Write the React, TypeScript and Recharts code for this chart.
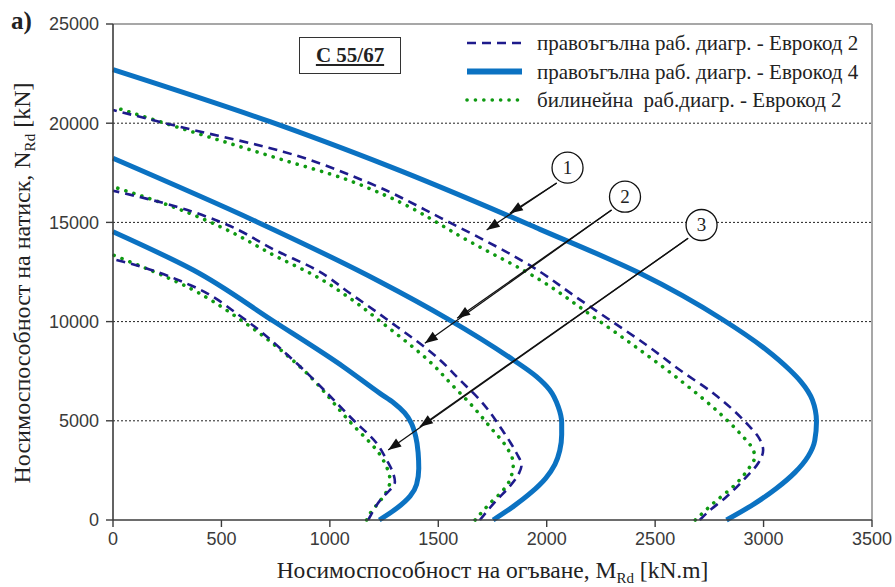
import React from 'react'
import { Legend, Line, LineChart, ReferenceDot, ReferenceLine, XAxis, YAxis } from 'recharts'

// M [kN.m], N [kN] pairs, ordered from N = 0 upwards
const rectEc4Outer = [[2829, 0], [2955, 800], [3060, 1600], [3145, 2400], [3205, 3200], [3236, 4000], [3244, 4950], [3225, 6050], [3170, 7000], [3121, 7560], [3014, 8569], [2814, 10081], [2430, 12433], [1969, 14650], [1277, 17810], [724, 20075], [0, 22700]]
const rectEc2Outer = [[2706, 0], [2737, 336], [2829, 1176], [2922, 2184], [2975, 2858], [2998, 3528], [2975, 4200], [2922, 4873], [2860, 5544], [2768, 6385], [2614, 7560], [2460, 8820], [2291, 10081], [2122, 11340], [1969, 12515], [1515, 15205], [1185, 16970], [785, 18565], [293, 19860], [0, 20665]]
const bilinEc2Outer = [[2685, 0], [2768, 840], [2875, 1848], [2937, 2688], [2960, 3190], [2952, 3528], [2891, 4368], [2798, 5376], [2614, 7056], [2430, 8569], [2214, 10249], [1969, 12100], [1646, 14027], [1262, 16330], [1062, 17220], [785, 18145], [447, 19290], [217, 20075], [0, 20830]]

const rectEc4Mid = [[1753, 0], [1848, 700], [1930, 1400], [1995, 2100], [2038, 2800], [2060, 3500], [2069, 4300], [2069, 4900], [2053, 5712], [2014, 6552], [1953, 7224], [1846, 8065], [1539, 10166], [1231, 12012], [662, 15035], [0, 18230]]
const rectEc2Mid = [[1692, 0], [1769, 1000], [1830, 1700], [1872, 2350], [1884, 2772], [1861, 3362], [1800, 4450], [1692, 6048], [1600, 7056], [1508, 8065], [1262, 10120], [1093, 11426], [939, 12600], [755, 13560], [510, 14955], [294, 15790], [0, 16600]]
const bilinEc2Mid = [[1670, 0], [1738, 840], [1800, 1512], [1830, 2016], [1846, 2856], [1823, 3528], [1738, 4700], [1646, 5880], [1560, 6850], [1477, 7812], [1240, 9950], [1093, 11174], [939, 12265], [755, 13270], [510, 14702], [294, 15710], [0, 16800]]

const rectEc4Inner = [[1228, 0], [1310, 600], [1370, 1200], [1400, 1800], [1410, 2600], [1407, 3400], [1396, 4200], [1375, 4900], [1345, 5400], [1295, 5900], [1231, 6384], [1062, 7728], [739, 10030], [370, 12600], [0, 14530]]
const rectEc2Inner = [[1177, 0], [1185, 168], [1246, 1176], [1277, 1512], [1300, 1930], [1292, 2352], [1262, 3024], [1216, 3866], [1108, 5040], [847, 7898], [601, 10166], [355, 11845], [48, 13020], [0, 13150]]
const bilinEc2Inner = [[1170, 0], [1177, 168], [1246, 1176], [1270, 1600], [1277, 2016], [1246, 3024], [1085, 5040], [862, 7728], [601, 9996], [355, 11678], [0, 13357]]

const xTicks = [0, 500, 1000, 1500, 2000, 2500, 3000, 3500]
const yTicks = [0, 5000, 10000, 15000, 20000, 25000]
const gridValues = [5000, 10000, 15000, 20000]

const legendLabels = [
  'правоъгълна раб. диагр. - Еврокод 2',
  'правоъгълна раб. диагр. - Еврокод 4',
  'билинейна  раб.диагр. - Еврокод 2',
]

// numbered callouts: circle centre, arrow start, first and second arrow tip
const callouts = [
  { label: '1', circle: [2096, 17757], from: [2046, 16985], mid: [1830, 15457], to: [1723, 14617] },
  { label: '2', circle: [2361, 16295], from: [2299, 15625], mid: [1587, 10166], to: [1438, 8906] },
  { label: '3', circle: [2714, 14869], from: [2652, 14198], mid: [1415, 4703], to: [1269, 3528] },
]

const toPts = (a: number[][]) => a.map(([m, n]) => ({ m, n }))

const sets = [
  { id: 'outer', rect2: rectEc2Outer, rect4: rectEc4Outer, bilin: bilinEc2Outer },
  { id: 'mid', rect2: rectEc2Mid, rect4: rectEc4Mid, bilin: bilinEc2Mid },
  { id: 'inner', rect2: rectEc2Inner, rect4: rectEc4Inner, bilin: bilinEc2Inner },
]

const styles: Record<string, any> = {
  rect2: { stroke: '#1e1b8c', strokeWidth: 2.6, strokeDasharray: '9 6' },
  rect4: { stroke: '#0b72c2', strokeWidth: 5 },
  bilin: { stroke: '#0f9a12', strokeWidth: 3.6, strokeDasharray: '0.1 8.3', strokeLinecap: 'round' },
}
const legendKeys = ['rect2', 'rect4', 'bilin']

const serif = '"Liberation Serif", "Times New Roman", serif'
const sans = '"Liberation Sans", Arial, sans-serif'
const tickStyle = { fontSize: 18, fill: '#3a3a3a', fontFamily: sans }

function YTitle({ viewBox }: any) {
  const cx = 30
  const cy = viewBox.y + viewBox.height / 2 + 11
  return (
    <text x={cx} y={cy} transform={`rotate(-90 ${cx} ${cy})`} textAnchor="middle" style={{ fontFamily: serif, fontSize: 24 }} fill="#222">
      Носимоспособност на натиск, N<tspan style={{ fontFamily: serif, fontSize: 15 }} dy={5}>Rd</tspan>
      <tspan style={{ fontFamily: serif, fontSize: 24 }} dy={-5}> [kN]</tspan>
    </text>
  )
}

function XTitle({ viewBox }: any) {
  const cx = viewBox.x + viewBox.width / 2
  const y = viewBox.y + 58
  return (
    <text x={cx} y={y} textAnchor="middle" style={{ fontFamily: serif, fontSize: 23.5 }} fill="#222">
      Носимоспособност на огъване, M<tspan style={{ fontFamily: serif, fontSize: 15 }} dy={5}>Rd</tspan>
      <tspan style={{ fontFamily: serif, fontSize: 23.5 }} dy={-5}> [kN.m]</tspan>
    </text>
  )
}

function LegendBox() {
  return (
    <svg width={430} height={90}>
      {legendKeys.map((k, i) => {
        const y = 15 + i * 28.5
        return (
          <g key={k}>
            <line x1={4} x2={59} y1={y} y2={y} {...styles[k]} strokeWidth={k === 'rect4' ? 6 : styles[k].strokeWidth} />
            <text x={74} y={y + 7} style={{ fontFamily: serif, fontSize: 21, whiteSpace: 'pre' }} fill="#222">
              {legendLabels[i]}
            </text>
          </g>
        )
      })}
    </svg>
  )
}

function arrowHead(x1: number, y1: number, x2: number, y2: number) {
  const len = Math.hypot(x2 - x1, y2 - y1) || 1
  const ux = (x2 - x1) / len
  const uy = (y2 - y1) / len
  const bx = x2 - ux * 13
  const by = y2 - uy * 13
  const px = -uy * 4.8
  const py = ux * 4.8
  return `${x2},${y2} ${bx + px},${by + py} ${bx - px},${by - py}`
}

function ArrowShape(props: any) {
  const { x1, y1, x2, y2 } = props
  return (
    <g>
      <line x1={x1} y1={y1} x2={x2} y2={y2} stroke="#111" strokeWidth={1.3} />
      <polygon points={arrowHead(x1, y1, x2, y2)} fill="#111" />
    </g>
  )
}

function CircleShape(label: string) {
  return (props: any) => (
    <g>
      <circle cx={props.cx} cy={props.cy} r={15.5} fill="#fff" stroke="#111" strokeWidth={1.3} />
      <text x={props.cx} y={props.cy + 6.5} textAnchor="middle" style={{ fontFamily: serif, fontSize: 19 }} fill="#222">
        {label}
      </text>
    </g>
  )
}

export default function App() {
  return (
    <div style={{ position: 'absolute', left: 0, top: 0, width: 895, height: 587, background: '#fff' }}>
      <LineChart width={895} height={587} margin={{ top: 24, right: 23, bottom: 0, left: 0 }}>
        <XAxis
          type="number"
          dataKey="m"
          domain={[0, 3500]}
          ticks={xTicks}
          interval={0}
          height={67}
          tick={tickStyle}
          tickSize={7}
          tickMargin={5}
          axisLine={{ stroke: '#3c3c3c', strokeWidth: 1.6 }}
          tickLine={{ stroke: '#3c3c3c', strokeWidth: 1.4 }}
          label={<XTitle />}
        />
        <YAxis
          type="number"
          domain={[0, 25000]}
          ticks={yTicks}
          interval={0}
          width={113}
          tick={tickStyle}
          tickSize={7}
          tickMargin={7}
          axisLine={{ stroke: '#3c3c3c', strokeWidth: 1.6 }}
          tickLine={{ stroke: '#3c3c3c', strokeWidth: 1.4 }}
          label={<YTitle />}
        />
        {gridValues.map((v) => (
          <ReferenceLine key={v} y={v} stroke="#222" strokeWidth={1} strokeDasharray="2 2" />
        ))}
        <ReferenceLine y={25000} stroke="#8a8a8a" strokeWidth={1.5} />
        <ReferenceLine x={3500} stroke="#8a8a8a" strokeWidth={1.5} />

        {sets.map((s) => (
          <Line key={s.id + '4'} data={toPts(s.rect4)} dataKey="n" type="monotoneY" dot={false} activeDot={false} isAnimationActive={false} {...styles.rect4} />
        ))}
        {sets.map((s) => (
          <Line key={s.id + 'b'} data={toPts(s.bilin)} dataKey="n" type="monotoneY" dot={false} activeDot={false} isAnimationActive={false} {...styles.bilin} />
        ))}
        {sets.map((s) => (
          <Line key={s.id + '2'} data={toPts(s.rect2)} dataKey="n" type="monotoneY" dot={false} activeDot={false} isAnimationActive={false} {...styles.rect2} />
        ))}

        {callouts.map((c) => (
          <ReferenceLine key={c.label + 'a'} segment={[{ x: c.from[0], y: c.from[1] }, { x: c.mid[0], y: c.mid[1] }]} shape={ArrowShape} />
        ))}
        {callouts.map((c) => (
          <ReferenceLine key={c.label + 'b'} segment={[{ x: c.from[0], y: c.from[1] }, { x: c.to[0], y: c.to[1] }]} shape={ArrowShape} />
        ))}
        {callouts.map((c) => (
          <ReferenceDot key={c.label + 'c'} x={c.circle[0]} y={c.circle[1]} r={15} shape={CircleShape(c.label)} />
        ))}

        <Legend layout="vertical" align="center" verticalAlign="middle" content={<LegendBox />} wrapperStyle={{ left: 463, top: 28, width: 430 }} />
      </LineChart>

      <div style={{ position: 'absolute', left: 11, top: 7, fontFamily: serif, fontWeight: 'bold', fontSize: 25, color: '#222' }}>a)</div>
      <div
        style={{
          position: 'absolute', left: 299, top: 37, width: 100, height: 35, border: '1.6px solid #333',
          display: 'flex', alignItems: 'center', justifyContent: 'center',
          fontFamily: serif, fontWeight: 'bold', fontSize: 21, textDecoration: 'underline', color: '#222',
        }}
      >
        C 55/67
      </div>
    </div>
  )
}
